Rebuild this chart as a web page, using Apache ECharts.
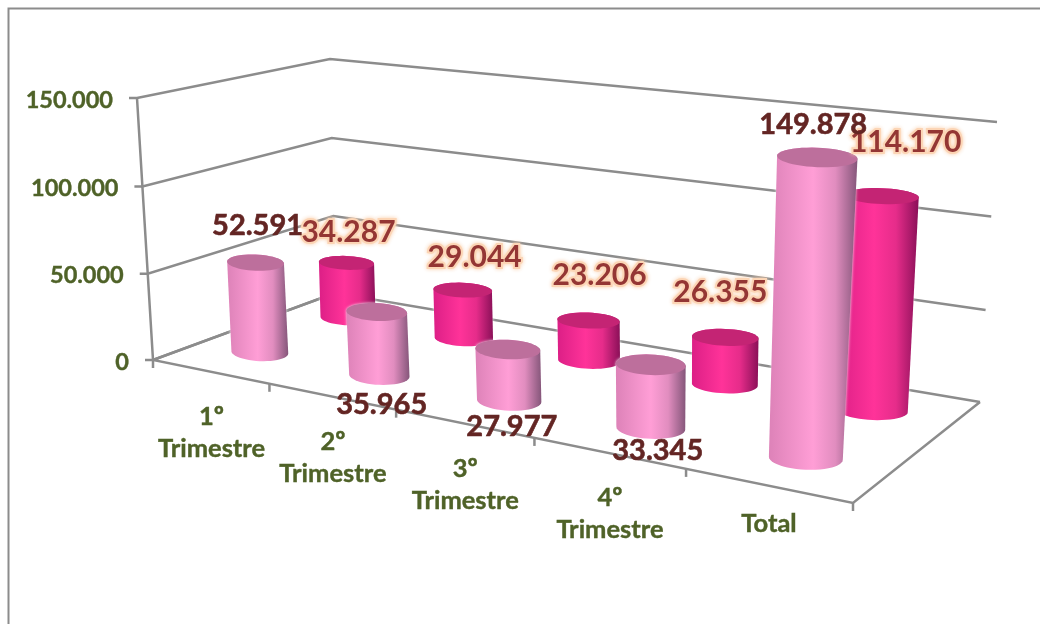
<!DOCTYPE html>
<html>
    <head>
        <title></title>
        <meta charset="UTF-8">
        <style>
            html, body { margin: 0; padding: 0; background: #fff; }
            #main { width: 1040px; height: 624px; }
        </style>
        <script src="https://cdn.jsdelivr.net/npm/echarts@6/dist/echarts.min.js"></script>
    </head>
    <body>
        <div id="main"></div>
    </body>
    <script>
        // 数据
        var categories = ['1º Trimestre', '2º Trimestre', '3º Trimestre', '4º Trimestre', 'Total'];
        var valuesFront = [52591, 35965, 27977, 33345, 149878];
        var valuesBack = [34287, 29044, 23206, 26355, 114170];
        var tickValues = [0, 50000, 100000, 150000];
        var tickLabels = ['0', '50.000', '100.000', '150.000'];

        // 标签相对柱顶的偏移
        var offsetFront = [[2, -37], [5, 93], [4, 77], [7, 86], [-4, -33]];
        var offsetBack = [[2, -31], [12, -33], [11, -45], [-5, -45], [24, -54]];

        // 透视框架的角点 [前左, 前右, 后右, 后左]
        var floorQuad = [[153, 360], [853, 503], [980, 402], [335, 293]];
        var roofQuad = [[137, 98], [872, 186], [997, 122], [330, 59]];

        var lineColor = '#8c8c8c';
        var axisColor = '#4f6228';
        var font = 'Lato, "Open Sans", sans-serif';

        function quadMatrix(q) {
            var x0 = q[0][0], y0 = q[0][1], x1 = q[1][0], y1 = q[1][1];
            var x2 = q[2][0], y2 = q[2][1], x3 = q[3][0], y3 = q[3][1];
            var dx1 = x1 - x2, dx2 = x3 - x2, sx = x0 - x1 + x2 - x3;
            var dy1 = y1 - y2, dy2 = y3 - y2, sy = y0 - y1 + y2 - y3;
            var den = dx1 * dy2 - dx2 * dy1;
            var g = (sx * dy2 - dx2 * sy) / den;
            var h = (dx1 * sy - sx * dy1) / den;
            return [x1 - x0 + g * x1, x3 - x0 + h * x3, x0, y1 - y0 + g * y1, y3 - y0 + h * y3, y0, g, h];
        }
        var floorM = quadMatrix(floorQuad);
        var roofM = quadMatrix(roofQuad);

        function planePoint(m, u, w) {
            var d = m[6] * u + m[7] * w + 1;
            return [(m[0] * u + m[1] * w + m[2]) / d, (m[3] * u + m[4] * w + m[5]) / d];
        }

        // u: 类目方向, w: 纵深方向, t: 数值方向 (都是 0~1)
        function project(u, w, t) {
            var a = planePoint(floorM, u, w);
            var b = planePoint(roofM, u, w);
            var k = t / (1.02 - 0.02 * t);
            return [a[0] + (b[0] - a[0]) * k, a[1] + (b[1] - a[1]) * k];
        }

        // 通过坐标轴把数据换算成 0~1
        function toUnit(api, params, x, y) {
            var rect = params.coordSys;
            var p = api.coord([x, y]);
            return [(p[0] - rect.x) / rect.width, (rect.y + rect.height - p[1]) / rect.height];
        }

        function hull(points) {
            var pts = points.slice().sort(function (a, b) { return a[0] - b[0] || a[1] - b[1]; });
            function cross(o, a, b) { return (a[0] - o[0]) * (b[1] - o[1]) - (a[1] - o[1]) * (b[0] - o[0]); }
            var lower = [], upper = [];
            pts.forEach(function (p) {
                while (lower.length >= 2 && cross(lower[lower.length - 2], lower[lower.length - 1], p) <= 0) lower.pop();
                lower.push(p);
            });
            pts.reverse().forEach(function (p) {
                while (upper.length >= 2 && cross(upper[upper.length - 2], upper[upper.length - 1], p) <= 0) upper.pop();
                upper.push(p);
            });
            return lower.slice(0, -1).concat(upper.slice(0, -1));
        }

        // 柱子的椭圆截面, 比透视算出来的更接近水平
        function ring(u, w, t) {
            var du = 0.05 - 0.005 * u;
            var c = project(u, w, t);
            var rx = (project(u + du, w, t)[0] - project(u - du, w, t)[0]) / 2;
            var ry = rx * (0.334 - 0.089 * w - 0.07 * t);
            var pts = [];
            for (var i = 0; i < 48; i++) {
                var a = i / 48 * Math.PI * 2;
                var dx = Math.cos(a) * rx;
                pts.push([c[0] + dx, c[1] + Math.sin(a) * ry + dx * 0.04]);
            }
            return pts;
        }

        function cylinderSeries(values, depth, stops, topColor) {
            return {
                type: 'custom',
                coordinateSystem: 'cartesian2d',
                silent: true,
                z: 5,
                encode: { x: 0, y: 1 },
                data: values.map(function (v, i) { return [i, v]; }),
                renderItem: function (params, api) {
                    var n = toUnit(api, params, api.value(0), api.value(1));
                    var top = ring(n[0], depth, n[1]);
                    var bottom = ring(n[0], depth, 0);
                    return {
                        type: 'group',
                        children: [{
                            type: 'polygon',
                            shape: { points: hull(top.concat(bottom)) },
                            style: {
                                fill: new echarts.graphic.LinearGradient(0, 0, 1, 0, stops),
                                shadowBlur: 3,
                                shadowColor: 'rgba(255,255,255,0.9)'
                            }
                        }, {
                            type: 'polygon',
                            shape: { points: top },
                            style: { fill: topColor }
                        }]
                    };
                }
            };
        }

        function labelSeries(values, depth, offsets, color, size, glow) {
            return {
                type: 'custom',
                coordinateSystem: 'cartesian2d',
                silent: true,
                z: 10,
                encode: { x: 0, y: 1 },
                data: values.map(function (v, i) { return [i, v]; }),
                renderItem: function (params, api) {
                    var n = toUnit(api, params, api.value(0), api.value(1));
                    var c = project(n[0], depth, n[1]);
                    var i = api.value(0);
                    var style = {
                        x: c[0] + offsets[i][0],
                        y: c[1] + offsets[i][1],
                        text: String(api.value(1)).replace(/(\d{3})$/, '.$1'),
                        fill: color,
                        font: 'bold ' + size + 'px ' + font,
                        align: 'center',
                        verticalAlign: 'middle',
                        stroke: color,
                        lineWidth: 0.6
                    };
                    if (glow) {
                        style.stroke = glow;
                        style.lineWidth = 4;
                        style.strokeFirst = true;
                        style.textShadowColor = glow;
                        style.textShadowBlur = 4;
                    }
                    return { type: 'text', style: style };
                }
            };
        }

        function line(points) {
            return {
                type: 'polyline',
                shape: { points: points },
                style: { fill: null, stroke: lineColor, lineWidth: 2.5 }
            };
        }

        // 数值轴: 网格线, 刻度和文字
        var valueAxisSeries = {
            type: 'custom',
            coordinateSystem: 'cartesian2d',
            silent: true,
            z: 1,
            encode: { y: 0 },
            data: tickValues.map(function (v) { return [v]; }),
            renderItem: function (params, api) {
                var t = toUnit(api, params, 0, api.value(0))[1];
                var a = project(0, 0, t), b = project(0, 1, t), c = project(1, 1, t);
                return {
                    type: 'group',
                    children: [
                        line([[a[0] - 8, a[1]], a, b, c]),
                        {
                            type: 'text',
                            style: {
                                x: a[0] - 24,
                                y: a[1] + 2,
                                text: tickLabels[params.dataIndex],
                                fill: axisColor,
                                stroke: axisColor,
                                lineWidth: 0.4,
                                font: 'bold 23.5px ' + font,
                                align: 'right',
                                verticalAlign: 'middle'
                            }
                        }
                    ]
                };
            }
        };

        // 类目轴: 前沿刻度和文字
        var categoryAxisSeries = {
            type: 'custom',
            coordinateSystem: 'cartesian2d',
            silent: true,
            z: 1,
            encode: { x: 0 },
            data: categories.map(function (c, i) { return [i]; }),
            renderItem: function (params, api) {
                var i = api.value(0);
                var mid = toUnit(api, params, i, 0)[0];
                var end = (i + 1) / categories.length;
                var tick = project(end, 0, 0);
                var edge = project(mid, 0, 0);
                var two = categories[i].indexOf(' ') > 0;
                return {
                    type: 'group',
                    children: [
                        line([tick, [tick[0], tick[1] + 8]]),
                        {
                            type: 'text',
                            style: {
                                x: edge[0] + 1.5,
                                y: edge[1] + (two ? 61 : 38),
                                text: categories[i].replace(' ', '\n'),
                                fill: axisColor,
                                stroke: axisColor,
                                lineWidth: 0.4,
                                font: 'bold 25.5px ' + font,
                                lineHeight: 32,
                                align: 'center',
                                verticalAlign: 'middle'
                            }
                        }
                    ]
                };
            }
        };

        // 底面和左边竖线
        var frameSeries = {
            type: 'custom',
            coordinateSystem: 'cartesian2d',
            silent: true,
            z: 1,
            encode: { y: 0 },
            data: [[0]],
            renderItem: function () {
                return {
                    type: 'group',
                    children: [
                        line([project(0, 0, 1), project(0, 0, 0), [project(0, 0, 0)[0], project(0, 0, 0)[1] + 8]]),
                        line([project(0, 1, 0), project(0, 0, 0), project(1, 0, 0), project(1, 1, 0)])
                    ]
                };
            }
        };

        var option = {
            animation: false,
            backgroundColor: '#fff',
            grid: { left: 0, right: 0, top: 0, bottom: 0 },
            xAxis: { type: 'category', data: categories, show: false },
            yAxis: { type: 'value', min: 0, max: 150000, interval: 50000, show: false },
            graphic: [{
                type: 'polyline',
                shape: { points: [[8.5, 624], [8.5, 8.5], [1040, 8.5]] },
                style: { fill: null, stroke: lineColor, lineWidth: 2 },
                silent: true
            }],
            series: [
                valueAxisSeries,
                categoryAxisSeries,
                frameSeries,
                cylinderSeries(valuesBack, 0.75, [
                    { offset: 0, color: '#dc1f86' },
                    { offset: 0.45, color: '#ff3399' },
                    { offset: 0.72, color: '#e62c8a' },
                    { offset: 1, color: '#8a1058' }
                ], '#c42474'),
                cylinderSeries(valuesFront, 0.255, [
                    { offset: 0, color: '#dd82b8' },
                    { offset: 0.5, color: '#ff9ed6' },
                    { offset: 0.75, color: '#e18dbf' },
                    { offset: 1, color: '#85567a' }
                ], '#bd6f9c'),
                labelSeries(valuesBack, 0.75, offsetBack, '#943634', 30, '#fcd5b5'),
                labelSeries(valuesFront, 0.255, offsetFront, '#632523', 29, null)
            ]
        };

        var chart = echarts.init(document.getElementById('main'));
        chart.setOption(option);
    </script>
</html>
